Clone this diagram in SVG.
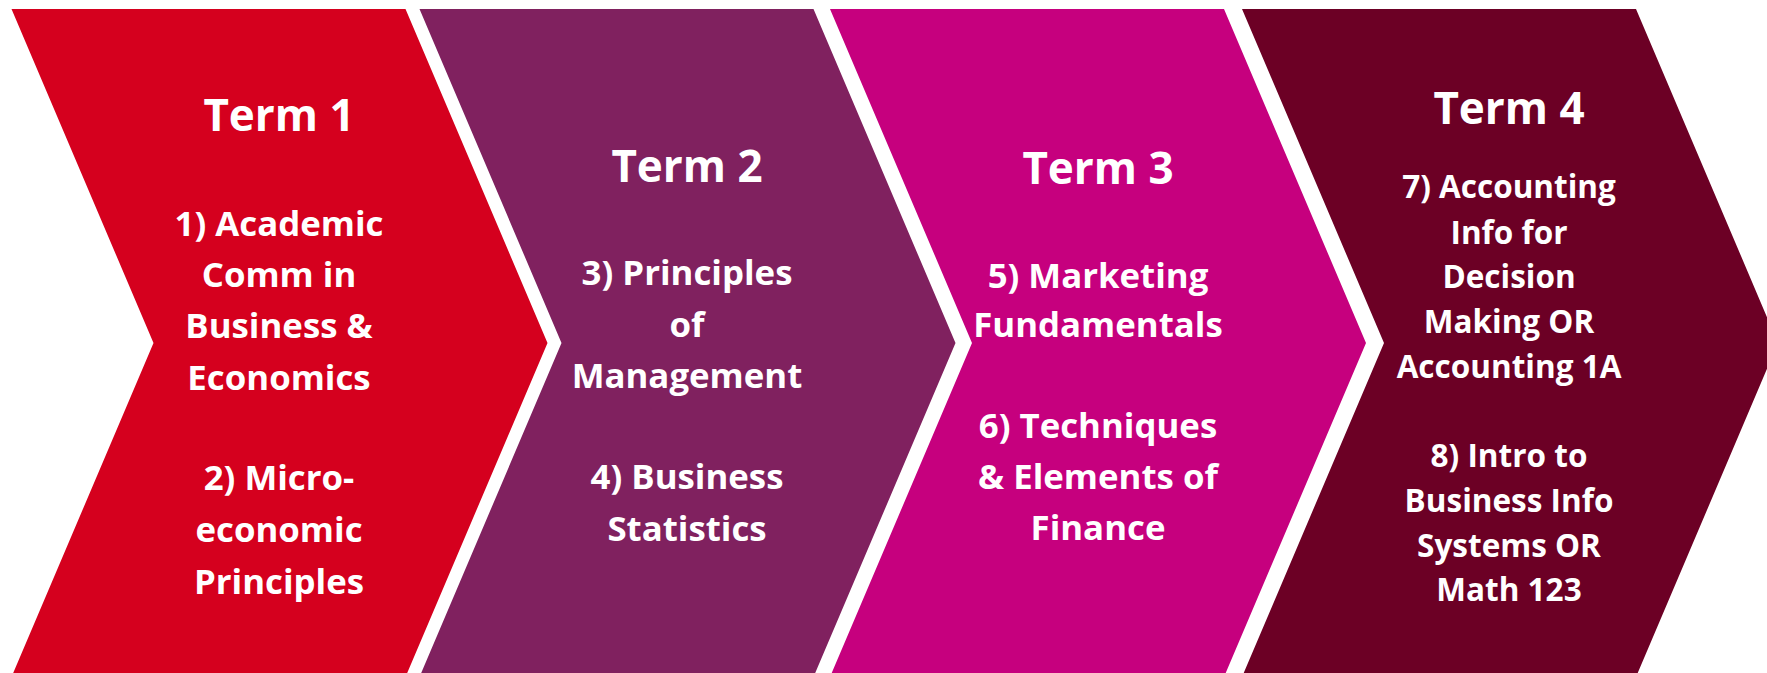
<svg xmlns="http://www.w3.org/2000/svg" width="1767" height="673" viewBox="0 0 1767 673">
<style>
  .t { font-family: "Open Sans", "Noto Sans", "Liberation Sans", sans-serif; font-weight: bold; fill: #FFFFFF; text-anchor: middle; }
  .title { font-size: 44px; }
  .body { font-size: 34.8px; }
  .body4 { font-size: 31.5px; }
</style>
<rect width="1767" height="673" fill="#FFFFFF"/>
<g id="term1">
  <polygon points="11.5,9 405.5,9 547.5,343 405.5,677 11.5,677 153.5,343" fill="#D5001E"/>
  <text class="t title" x="279" y="131">Term 1</text>
  <text class="t body" x="279" y="236">1) Academic</text>
  <text class="t body" x="279" y="287">Comm in</text>
  <text class="t body" x="279" y="338">Business &amp;</text>
  <text class="t body" x="279" y="390">Economics</text>
  <text class="t body" x="279" y="490">2) Micro-</text>
  <text class="t body" x="279" y="542">economic</text>
  <text class="t body" x="279" y="594">Principles</text>
</g>
<g id="term2">
  <polygon points="419.5,9 813.5,9 955.5,343 813.5,677 419.5,677 561.5,343" fill="#80215F"/>
  <text class="t title" x="687" y="182">Term 2</text>
  <text class="t body" x="687" y="285">3) Principles</text>
  <text class="t body" x="687" y="337">of</text>
  <text class="t body" x="687" y="388">Management</text>
  <text class="t body" x="687" y="489">4) Business</text>
  <text class="t body" x="687" y="541">Statistics</text>
</g>
<g id="term3">
  <polygon points="830,9 1224,9 1366,343 1224,677 830,677 972,343" fill="#C6007E"/>
  <text class="t title" x="1098" y="184">Term 3</text>
  <text class="t body" x="1098" y="288">5) Marketing</text>
  <text class="t body" x="1098" y="337">Fundamentals</text>
  <text class="t body" x="1098" y="438">6) Techniques</text>
  <text class="t body" x="1098" y="489">&amp; Elements of</text>
  <text class="t body" x="1098" y="540">Finance</text>
</g>
<g id="term4">
  <polygon points="1242,9 1636,9 1778,343 1636,677 1242,677 1384,343" fill="#6C0025"/>
  <text class="t title" x="1509" y="124">Term 4</text>
  <text class="t body4" x="1509" y="198">7) Accounting</text>
  <text class="t body4" x="1509" y="244">Info for</text>
  <text class="t body4" x="1509" y="288">Decision</text>
  <text class="t body4" x="1509" y="333">Making OR</text>
  <text class="t body4" x="1509" y="378">Accounting 1A</text>
  <text class="t body4" x="1509" y="467">8) Intro to</text>
  <text class="t body4" x="1509" y="512">Business Info</text>
  <text class="t body4" x="1509" y="557">Systems OR</text>
  <text class="t body4" x="1509" y="601">Math 123</text>
</g>
<g id="connectors"></g>
</svg>
